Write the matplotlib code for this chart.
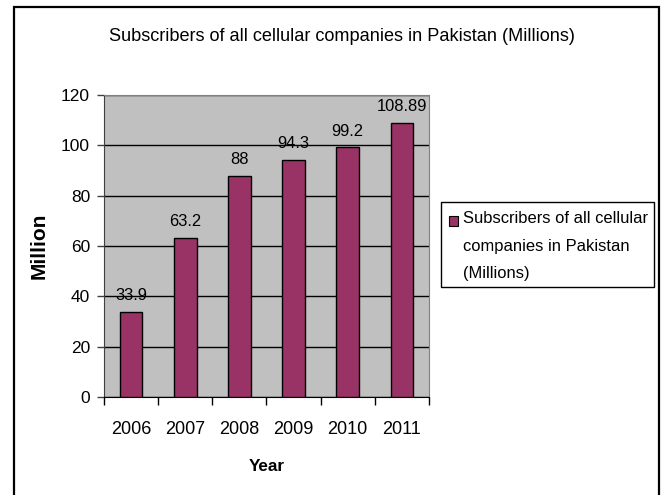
import matplotlib.pyplot as plt
from matplotlib import font_manager
from matplotlib.patches import Rectangle

plt.rcParams['font.family'] = ['Liberation Sans', 'DejaVu Sans']

years = ['2006', '2007', '2008', '2009', '2010', '2011']
subscribers = [33.9, 63.2, 88, 94.3, 99.2, 108.89]
value_labels = ['33.9', '63.2', '88', '94.3', '99.2', '108.89']
series_name = 'Subscribers of all cellular\ncompanies in Pakistan\n(Millions)'
title = 'Subscribers of all cellular companies in Pakistan (Millions)'

# the original text looks like narrow Arial; use the narrow face when it is there
names = {f.name for f in font_manager.fontManager.ttflist}
if 'Liberation Sans Narrow' in names:
    narrow, k = ['Liberation Sans Narrow', 'DejaVu Sans'], 1.0
else:
    narrow, k = ['Liberation Sans', 'DejaVu Sans'], 0.82

fig = plt.figure(figsize=(6.62, 4.95), dpi=100)
ax = fig.add_axes([0.157, 0.198, 0.491, 0.610])

# outer chart border
fig.patches.append(Rectangle((0.021, -0.05), 0.9745, 1.036, transform=fig.transFigure,
                             fill=False, edgecolor='black', linewidth=1.6))

x = range(len(years))
ax.set_facecolor('#C0C0C0')
ax.bar(x, subscribers, width=0.42, color='#993366', edgecolor='black', linewidth=1, zorder=3)
for i, v in enumerate(subscribers):
    ax.annotate(value_labels[i], (i, v), xytext=(0, 8.5), textcoords='offset points',
                ha='center', va='baseline', fontsize=14.5 * k, family=narrow, zorder=4)

ax.set_xlim(-0.5, 5.5)
ax.set_ylim(0, 120)
ax.set_yticks(range(0, 121, 20))
ax.yaxis.grid(True, color='black', linewidth=1, zorder=1)
ax.set_axisbelow(True)

ax.set_xticks(x)
ax.set_xticklabels(years, fontsize=15.8 * k, family=narrow)
ax.tick_params(axis='x', length=0, pad=17.5)
ax.set_xticks([i - 0.5 for i in range(len(years) + 1)], minor=True)
ax.tick_params(axis='x', which='minor', length=6, width=1, color='black', direction='out')
ax.tick_params(axis='y', labelsize=12.5, length=5, width=1, color='#404040', pad=5)

for s in ['top', 'right']:
    ax.spines[s].set_color('#808080')
ax.spines['left'].set_color('#404040')
ax.spines['bottom'].set_color('black')

ax.set_xlabel('Year', fontsize=15 * k, fontweight='bold', family=narrow, labelpad=15)
ax.set_ylabel('Million', fontsize=15, fontweight='bold', labelpad=9)

fig.text(342 / 662, 1 - 41 / 495, title, ha='center', va='baseline', fontsize=15.9 * k,
         family=narrow)

# legend box
fig.patches.append(Rectangle((441 / 662, 1 - 287 / 495), 213 / 662, 85 / 495,
                             transform=fig.transFigure, fill=False,
                             edgecolor='black', linewidth=1))
fig.patches.append(Rectangle((449 / 662, 1 - 226 / 495), 9 / 662, 10 / 495,
                             transform=fig.transFigure, facecolor='#993366',
                             edgecolor='black', linewidth=0.8))
fig.text(463 / 662, 1 - 211 / 495, series_name, ha='left', va='top', fontsize=14.5 * k,
         family=narrow, linespacing=2.05)

fig.savefig('out.png', dpi=100)
